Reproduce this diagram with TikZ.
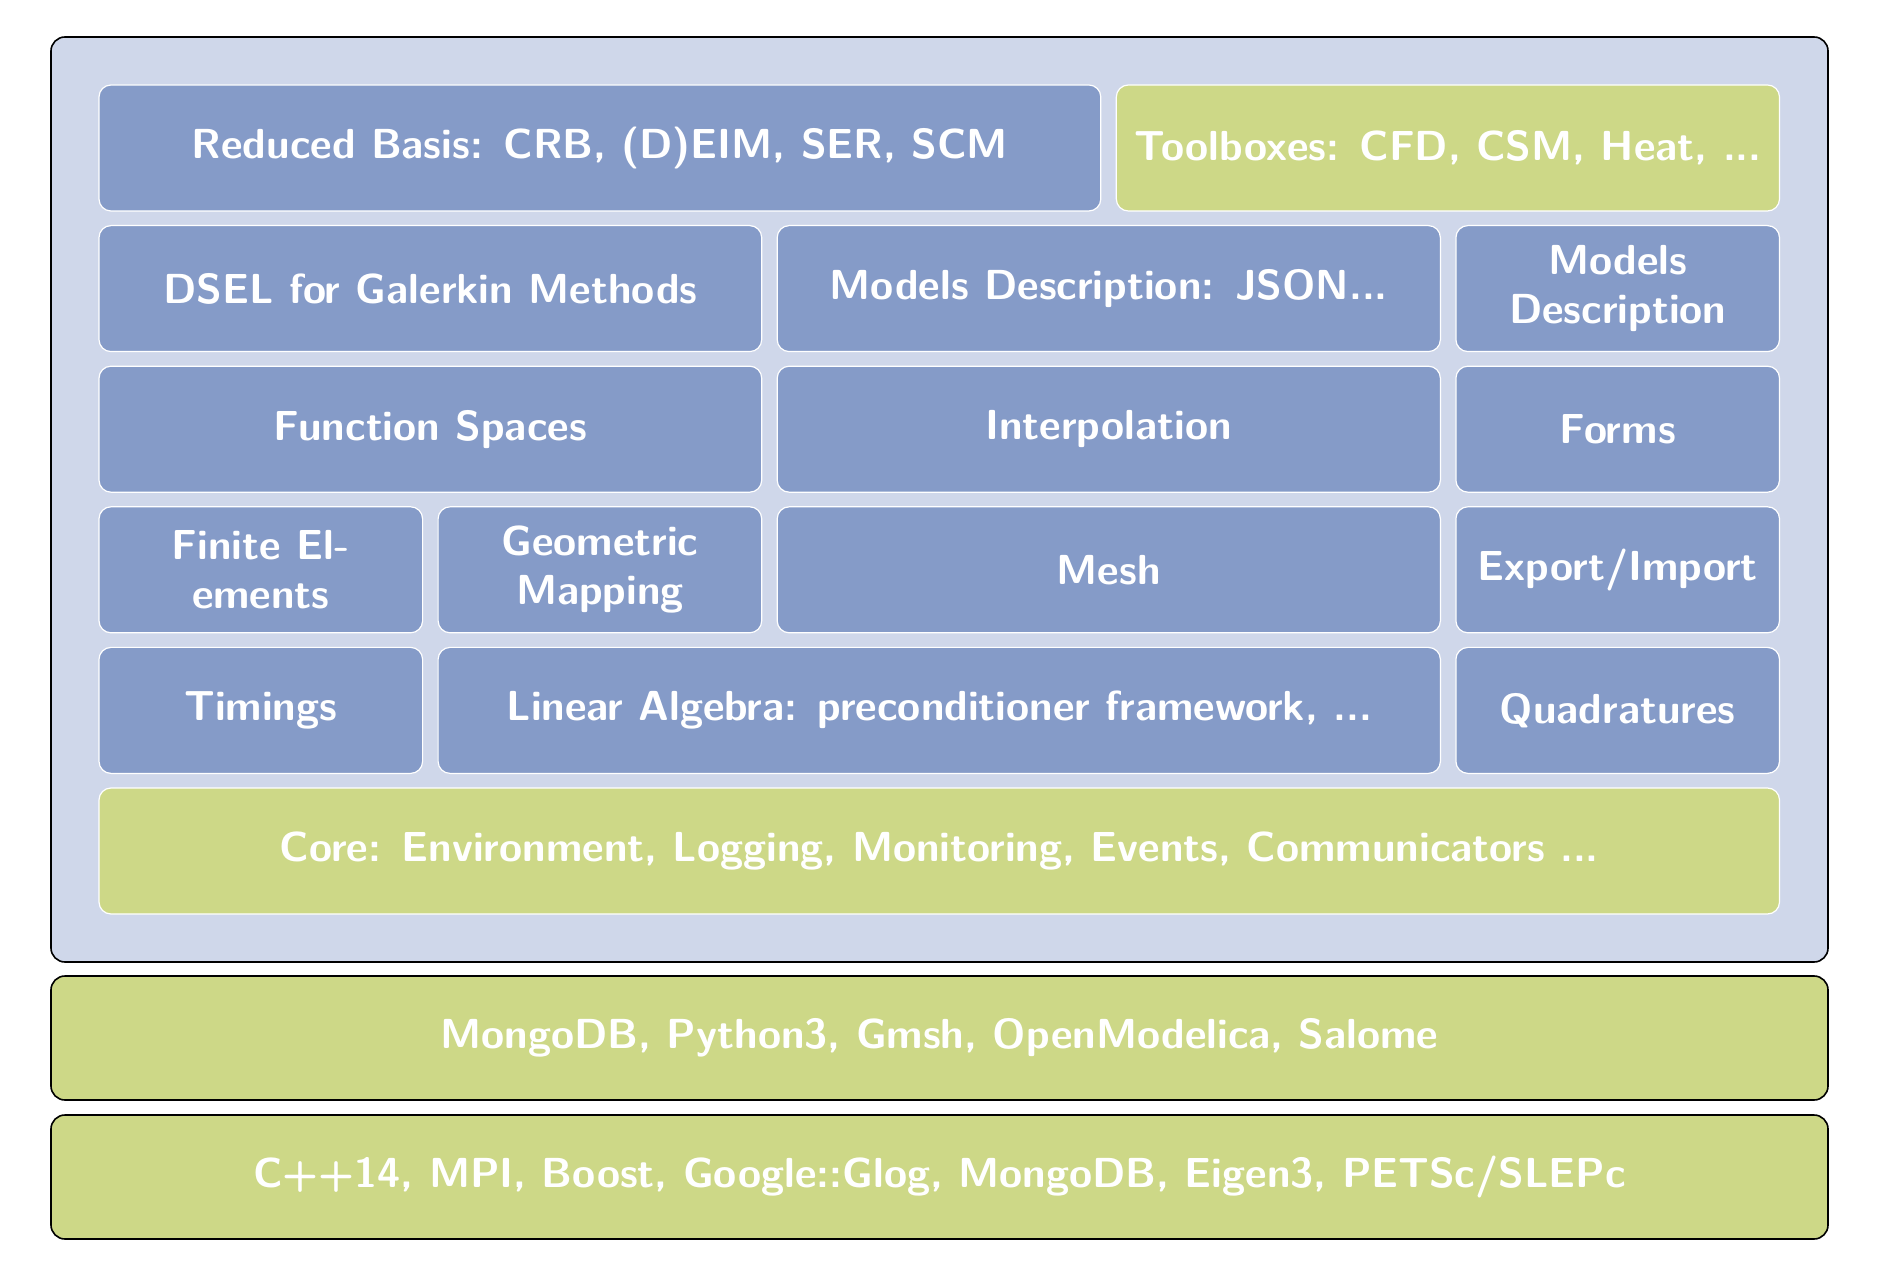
\documentclass[tikz,border=0pt]{standalone}
\usepackage{tikz}

\definecolor{layerbg}{RGB}{207,215,234}
\definecolor{modblue}{RGB}{133,155,200}
\definecolor{extgreen}{RGB}{205,216,135}

% place a box by its corners (x1,x2,y1,y2 in picture units)
\newcommand\layerbox[7]{%
  \pgfmathsetmacro\lcx{(#3+#4)/2}\pgfmathsetmacro\lcy{(#5+#6)/2}%
  \pgfmathsetmacro\lbw{(#4-#3)*0.5}\pgfmathsetmacro\lbh{(#6-#5)*0.5}%
  \node[#1, minimum width=\lbw pt, minimum height=\lbh pt] (#2) at (\lcx,\lcy) {#7};}

\tikzset{
  base/.style={rectangle, inner sep=0pt, outer sep=0pt, align=center,
    text=white, font=\sffamily\bfseries\fontsize{21}{24.5}\selectfont},
  frame/.style={base, draw=black, line width=0.8pt, rounded corners=7pt},
  module/.style={base, draw=white, line width=0.6pt, rounded corners=6pt, fill=modblue},
  extmodule/.style={module, fill=extgreen},
}

\begin{document}
\begin{tikzpicture}[x=0.5pt, y=-0.5pt]
  \useasboundingbox (0,0) rectangle (1878,1277);

  % outer library frame and external dependency layers
  \layerbox{frame, fill=layerbg}{lib}{51}{1828}{37}{962}{}
  \layerbox{frame, fill=extgreen}{ext}{51}{1828}{976}{1100}{MongoDB, Python3, Gmsh, OpenModelica, Salome}
  \layerbox{frame, fill=extgreen}{sys}{51}{1828}{1115}{1239}{C++14, MPI, Boost, Google::Glog, MongoDB, Eigen3, PETSc/SLEPc}

  % row 1
  \layerbox{module}{rb}{99}{1100.8}{85}{211}{Reduced Basis: CRB, (D)EIM, SER, SCM}
  \layerbox{extmodule}{tb}{1116.3}{1779.5}{85}{211}{Toolboxes: CFD, CSM, Heat, ...}
  % row 2
  \layerbox{module}{dsel}{99}{761.7}{225.6}{351.6}{DSEL for Galerkin Methods}
  \layerbox{module}{json}{777.2}{1440.4}{225.6}{351.6}{Models Description: JSON...}
  \layerbox{module}{mdesc}{1455.9}{1779.5}{225.6}{351.6}{Models\\Description}
  % row 3
  \layerbox{module}{fs}{99}{761.7}{366.2}{492.2}{Function Spaces}
  \layerbox{module}{interp}{777.2}{1440.4}{366.2}{492.2}{Interpolation}
  \layerbox{module}{forms}{1455.9}{1779.5}{366.2}{492.2}{Forms}
  % row 4
  \layerbox{module}{fe}{99}{422.6}{506.8}{632.8}{Finite El-\\ements}
  \layerbox{module}{gm}{438.1}{761.7}{506.8}{632.8}{Geometric\\Mapping}
  \layerbox{module}{mesh}{777.2}{1440.4}{506.8}{632.8}{Mesh}
  \layerbox{module}{io}{1455.9}{1779.5}{506.8}{632.8}{Export/Import}
  % row 5
  \layerbox{module}{tim}{99}{422.6}{647.4}{773.4}{Timings}
  \layerbox{module}{la}{438.1}{1440.4}{647.4}{773.4}{Linear Algebra: preconditioner framework, ...}
  \layerbox{module}{quad}{1455.9}{1779.5}{647.4}{773.4}{Quadratures}
  % row 6
  \layerbox{extmodule}{core}{99}{1779.5}{788}{914}{Core: Environment, Logging, Monitoring, Events, Communicators ...}
\end{tikzpicture}
\end{document}
